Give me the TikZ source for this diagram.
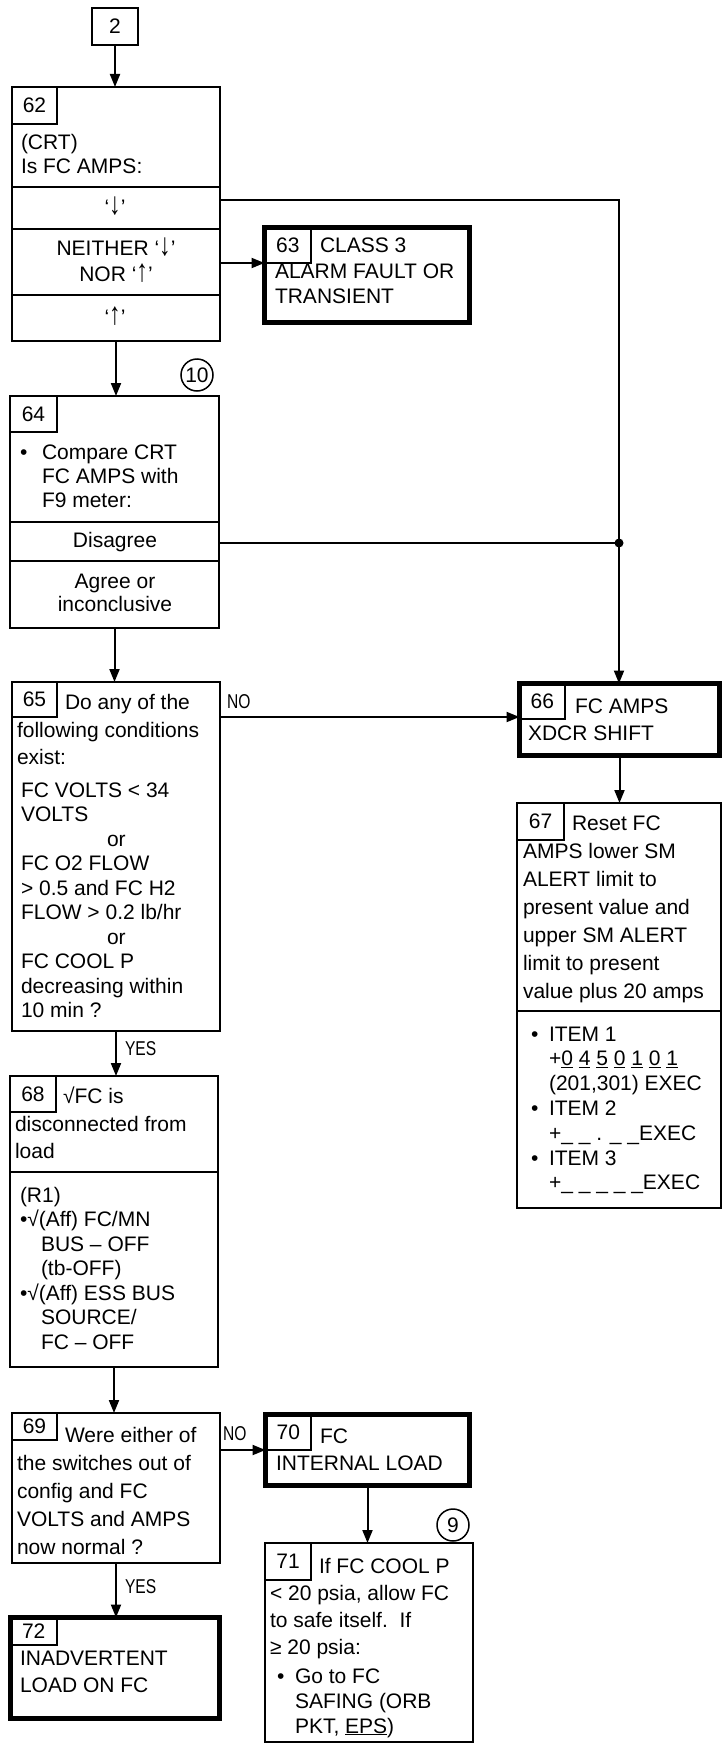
\documentclass[tikz,border=0pt]{standalone}
\usepackage{fontspec}
\setmainfont{Liberation Sans}
\newfontfamily\narrowfont[FakeStretch=0.78]{Liberation Sans}
\usetikzlibrary{arrows.meta}
% name, x, first baseline, step, lines
\newcommand\tlines[5]{\foreach \tline [count=\i] in {#5} {\node[txt,anchor=base west] (#1-\i) at (#2,{#3+(\i-1)*#4}) {\tline};}}
\newcommand\clines[5]{\foreach \tline [count=\i] in {#5} {\node[txt,anchor=base] (#1-\i) at (#2,{#3+(\i-1)*#4}) {\tline};}}
\newcommand\dnarr{\scalebox{1.1}[1.5]{↓}}
\newcommand\uparr{\scalebox{1.1}[1.5]{↑}}
\begin{document}
\begin{tikzpicture}[x=1pt,y=-1pt,
  box/.style={draw, line width=2pt, inner sep=0pt, outer sep=0pt, anchor=north west},
  tbox/.style={draw, line width=5pt, inner sep=0pt, outer sep=0pt, anchor=north west},
  numbox/.style={draw, line width=1.5pt, inner sep=0pt, outer sep=0pt, anchor=north west, font=\fontsize{21pt}{25pt}\selectfont},
  txt/.style={inner sep=0pt, outer sep=0pt, font=\fontsize{21pt}{25pt}\selectfont},
  lbl/.style={inner sep=0pt, outer sep=0pt, anchor=base west, font=\narrowfont\fontsize{20pt}{24pt}\selectfont},
  conn/.style={line width=2pt},
  arr/.style={line width=2pt, -{Triangle[length=13pt,width=10pt]}},
  ring/.style={circle, draw, line width=1.5pt, minimum size=32pt, inner sep=0pt, font=\fontsize{21pt}{25pt}\selectfont}]
\useasboundingbox (0,0) rectangle (723,1745);

% ---- box 2
\node[numbox, line width=2pt, minimum width=46pt, minimum height=37pt] (b2) at (92,8) {2};

% ---- box 62
\node[box, minimum width=208pt, minimum height=254pt] (b62) at (12,87) {};
\node[numbox, minimum width=45pt, minimum height=37pt] (n62) at (12,87) {62};
\tlines{t62}{21}{149}{24}{(CRT),Is FC AMPS:}
\draw[conn] (12,187) -- (220,187);
\draw[conn] (12,229) -- (220,229);
\draw[conn] (12,295) -- (220,295);
\node[txt, anchor=base] (r62a) at (115,214) {‘\dnarr’};
\clines{r62b}{116}{255}{26}{NEITHER ‘\dnarr’,NOR ‘\uparr’}
\node[txt, anchor=base] (r62c) at (115,324) {‘\uparr’};

% ---- box 63
\node[tbox, minimum width=205pt, minimum height=95pt] (b63) at (264.5,227.5) {};
\node[numbox, minimum width=46.5pt, minimum height=35.5pt] (n63) at (264.5,227.5) {63};
\node[txt, anchor=base west] (t63a) at (320,252) {CLASS 3};
\tlines{t63}{275}{278}{25}{ALARM FAULT OR,TRANSIENT}

% ---- box 64
\node[box, minimum width=209pt, minimum height=232pt] (b64) at (10,396) {};
\node[numbox, minimum width=47pt, minimum height=36pt] (n64) at (10,396) {64};
\node[ring] (c10) at (197,375) {10};
\node[txt, anchor=base west] (t64b) at (20,459) {•};
\tlines{t64}{42}{459}{24}{Compare CRT,FC AMPS with,F9 meter:}
\draw[conn] (10,522) -- (219,522);
\draw[conn] (10,561) -- (219,561);
\node[txt, anchor=base] (t64d) at (115,547) {Disagree};
\clines{t64a}{115}{588}{23}{Agree or,inconclusive}

% ---- box 65
\node[box, minimum width=208pt, minimum height=349pt] (b65) at (12,682) {};
\node[numbox, minimum width=45pt, minimum height=35pt] (n65) at (12,682) {65};
\node[txt, anchor=base west] (t65a) at (65,709) {Do any of the};
\tlines{t65b}{17}{737}{27.5}{following conditions,exist:}
\tlines{t65c}{21}{797}{24.5}{FC VOLTS < 34,VOLTS,\hspace*{86pt}or,FC O2 FLOW,> 0.5 and FC H2,FLOW > 0.2 lb/hr,\hspace*{86pt}or,FC COOL P,decreasing within,10 min ?}

% ---- box 66
\node[tbox, minimum width=200pt, minimum height=72pt] (b66) at (519.5,683.5) {};
\node[numbox, minimum width=45.5pt, minimum height=35.5pt] (n66) at (519.5,683.5) {66};
\node[txt, anchor=base west] (t66a) at (575,713) {FC AMPS};
\node[txt, anchor=base west] (t66b) at (528,740) {XDCR SHIFT};

% ---- box 67
\node[box, minimum width=204pt, minimum height=405pt] (b67) at (517,803) {};
\node[numbox, minimum width=47pt, minimum height=37pt] (n67) at (517,803) {67};
\node[txt, anchor=base west] (t67a) at (572,830) {Reset FC};
\tlines{t67b}{523}{858}{28}{AMPS lower SM,ALERT limit to,present value and,upper SM ALERT,limit to present,value plus 20 amps}
\draw[conn] (517,1011) -- (721,1011);
\node[txt, anchor=base west] (t67u1) at (531,1041) {•};
\node[txt, anchor=base west] (t67u2) at (531,1115.4) {•};
\node[txt, anchor=base west] (t67u3) at (531,1165) {•};
\tlines{t67c}{549}{1041}{24.8}{ITEM 1,+\underline{0} \underline{4} \underline{5} \underline{0} \underline{1} \underline{0} \underline{1},{(201,301) EXEC},ITEM 2,+\_ \_ . \_ \_EXEC,ITEM 3,+\_ \_ \_ \_ \_EXEC}

% ---- box 68
\node[box, minimum width=208pt, minimum height=291pt] (b68) at (10,1076) {};
\node[numbox, minimum width=46pt, minimum height=36pt] (n68) at (10,1076) {68};
\node[txt, anchor=base west] (t68a) at (63,1103) {√FC is};
\tlines{t68b}{15}{1131}{27}{disconnected from,load}
\draw[conn] (10,1172) -- (218,1172);
\tlines{t68c}{20}{1202}{24.5}{(R1),•√(Aff) FC/MN,\hspace*{21pt}BUS – OFF,\hspace*{21pt}(tb-OFF),•√(Aff) ESS BUS,\hspace*{21pt}SOURCE/,\hspace*{21pt}FC – OFF}

% ---- box 69
\node[box, minimum width=208pt, minimum height=150pt] (b69) at (12,1413) {};
\node[numbox, minimum width=45pt, minimum height=27pt] (n69) at (12,1413) {69};
\node[txt, anchor=base west] (t69a) at (65,1442) {Were either of};
\tlines{t69b}{17}{1470}{28}{the switches out of,config and FC,VOLTS and AMPS,now normal ?}

% ---- box 70
\node[tbox, minimum width=204pt, minimum height=71pt] (b70) at (265.5,1414.5) {};
\node[numbox, minimum width=45.5pt, minimum height=35.5pt] (n70) at (265.5,1414.5) {70};
\node[txt, anchor=base west] (t70a) at (320,1443) {FC};
\node[txt, anchor=base west] (t70b) at (276,1470) {INTERNAL LOAD};

% ---- box 71
\node[box, minimum width=208pt, minimum height=199pt] (b71) at (265,1543) {};
\node[numbox, minimum width=46pt, minimum height=37pt] (n71) at (265,1543) {71};
\node[ring] (c9) at (453,1525) {9};
\node[txt, anchor=base west] (t71a) at (319,1573) {If FC COOL P};
\tlines{t71b}{270}{1600}{27}{{< 20 psia, allow FC},to safe itself.\ \ If,≥ 20 psia:}
\node[txt, anchor=base west] (t71u) at (277,1683) {•};
\tlines{t71c}{295}{1683}{25}{Go to FC,SAFING (ORB,{PKT, \underline{EPS})}}

% ---- box 72
\node[tbox, minimum width=209pt, minimum height=101pt] (b72) at (10.5,1617.5) {};
\node[numbox, minimum width=46.5pt, minimum height=27.5pt] (n72) at (10.5,1617.5) {72};
\tlines{t72}{20}{1665}{27}{INADVERTENT,LOAD ON FC}

% ---- connectors
\coordinate (c1) at (619,200);
\coordinate (dot) at (619,543);
\draw[arr] (b2.south) -- (b2.south |- b62.north);
\draw[arr] (b62.east |- n63.south) -- (b63.west |- n63.south);
\draw[arr] (b62.east |- c1) -- (c1) -- (c1 |- b66.north);
\draw[conn] (b64.east |- dot) -- (dot);
\fill (dot) circle (4.5pt);
\draw[arr] (b62.south) -- (b62.south |- b64.north);
\draw[arr] (b64.south) -- (b64.south |- b65.north);
\draw[arr] (b65.east |- n65.south) -- (b66.west |- n65.south);
\node[lbl] (lno1) at (227,708) {NO};
\draw[arr] (b66.south) -- (b66.south |- b67.north);
\draw[arr] (b65.south) -- (b65.south |- b68.north);
\node[lbl] (lyes1) at (125,1055) {YES};
\draw[arr] (b68.south) -- (b68.south |- b69.north);
\draw[arr] (b69.east |- b70.west) -- (b70.west);
\node[lbl] (lno2) at (223,1440) {NO};
\draw[arr] (b69.south) -- (b69.south |- b72.north);
\node[lbl] (lyes2) at (125,1593) {YES};
\draw[arr] (b70.south) -- (b70.south |- b71.north);
\end{tikzpicture}
\end{document}
